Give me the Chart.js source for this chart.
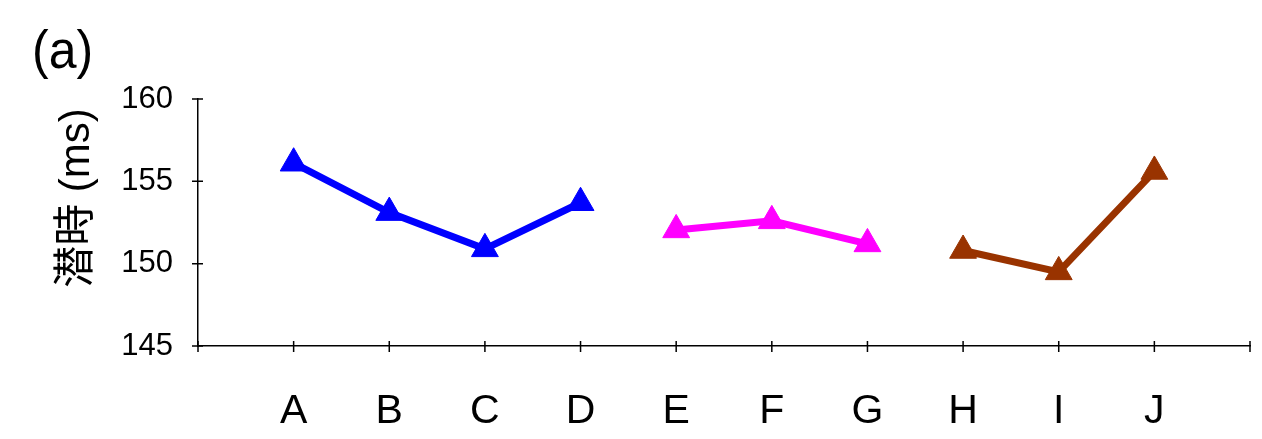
<!DOCTYPE html>
<html>
<head>
<meta charset="utf-8">
<script src="https://cdn.jsdelivr.net/npm/chart.js@4/dist/chart.umd.min.js"></script>
<style>
  html, body { margin: 0; padding: 0; background: #fff; }
  #wrap { position: relative; width: 1262px; height: 439px; }
  #panel { position: absolute; left: 32px; top: 18px; font: 50px "Liberation Sans", Arial, sans-serif; color: #000;
           transform: scaleY(1.08); transform-origin: top left; }
  #ytitle { position: absolute; left: 70px; top: 198px; transform: translate(-50%, -50%) rotate(-90deg);
            white-space: nowrap; font: 42px "Liberation Sans", "Noto Sans CJK JP", sans-serif; color: #000; }
</style>
</head>
<body>
<div id="wrap">
  <canvas id="chart" width="1262" height="439"></canvas>
  <div id="panel">(a)</div>
  <div id="ytitle">潜時 (ms)</div>
</div>
<script>
// categories along the x axis
const categories = ['A', 'B', 'C', 'D', 'E', 'F', 'G', 'H', 'I', 'J'];

// latency values (ms) for each group
const blueCats = ['A', 'B', 'C', 'D'];
const blueValues = [156.1, 153.1, 150.9, 153.7];
const pinkCats = ['E', 'F', 'G'];
const pinkValues = [152.05, 152.6, 151.2];
const brownCats = ['H', 'I', 'J'];
const brownValues = [150.8, 149.5, 155.6];

const yTicks = [145, 150, 155, 160];

function toPoints (cats, vals) {
    return cats.map((c, i) => ({ x: categories.indexOf(c) + 1, y: vals[i] }));
}

function series (cats, vals, color) {
    return {
        data: toPoints(cats, vals),
        borderColor: color,
        backgroundColor: color,
        borderWidth: 7,
        pointStyle: 'triangle',
        pointRadius: 15.5,
        pointHoverRadius: 15.5,
        pointBorderWidth: 1,
        tension: 0,
        clip: false
    };
}

// tick marks that cross the axis lines, like the original
const crossTicks = {
    id: 'crossTicks',
    afterDraw (chart) {
        const ctx = chart.ctx;
        const xs = chart.scales.x;
        const ys = chart.scales.y;
        ctx.save();
        ctx.strokeStyle = '#000';
        ctx.lineWidth = 1.5;
        ctx.beginPath();
        for (let v = 0; v <= categories.length + 1; ++v) {
            const px = xs.getPixelForValue(v);
            ctx.moveTo(px, ys.bottom - 5);
            ctx.lineTo(px, ys.bottom + 6);
        }
        for (const t of yTicks) {
            const py = ys.getPixelForValue(t);
            ctx.moveTo(xs.left - 6, py);
            ctx.lineTo(xs.left + 5, py);
        }
        ctx.stroke();
        ctx.restore();
    }
};

new Chart(document.getElementById('chart'), {
    type: 'line',
    data: {
        datasets: [
            series(blueCats, blueValues, '#0000ff'),
            series(pinkCats, pinkValues, '#ff00ff'),
            series(brownCats, brownValues, '#993300')
        ]
    },
    options: {
        responsive: false,
        animation: false,
        layout: { autoPadding: false, padding: { top: 99, right: 12, left: 0, bottom: 0 } },
        plugins: { legend: { display: false }, tooltip: { enabled: false } },
        scales: {
            x: {
                type: 'linear',
                min: 0,
                max: categories.length + 1,
                afterFit: s => { s.height = 93; s.paddingLeft = 0; s.paddingRight = 0; },
                afterBuildTicks: s => { s.ticks = Array.from({ length: categories.length + 2 }, (_, i) => ({ value: i })); },
                ticks: {
                    autoSkip: false,
                    maxRotation: 0,
                    padding: 41,
                    color: '#000',
                    font: { family: '"Liberation Sans", Arial, sans-serif', size: 41 },
                    callback: v => categories[v - 1] || ''
                },
                grid: { drawOnChartArea: false, drawTicks: false },
                border: { color: '#000', width: 1.5 }
            },
            y: {
                min: 145,
                max: 160,
                afterFit: s => { s.width = 198; },
                afterBuildTicks: s => { s.ticks = yTicks.map(v => ({ value: v })); },
                ticks: {
                    padding: 25,
                    color: '#000',
                    font: { family: '"Liberation Sans", Arial, sans-serif', size: 31 }
                },
                grid: { drawOnChartArea: false, drawTicks: false },
                border: { color: '#000', width: 1.5 }
            }
        }
    },
    plugins: [crossTicks]
});
</script>
</body>
</html>
